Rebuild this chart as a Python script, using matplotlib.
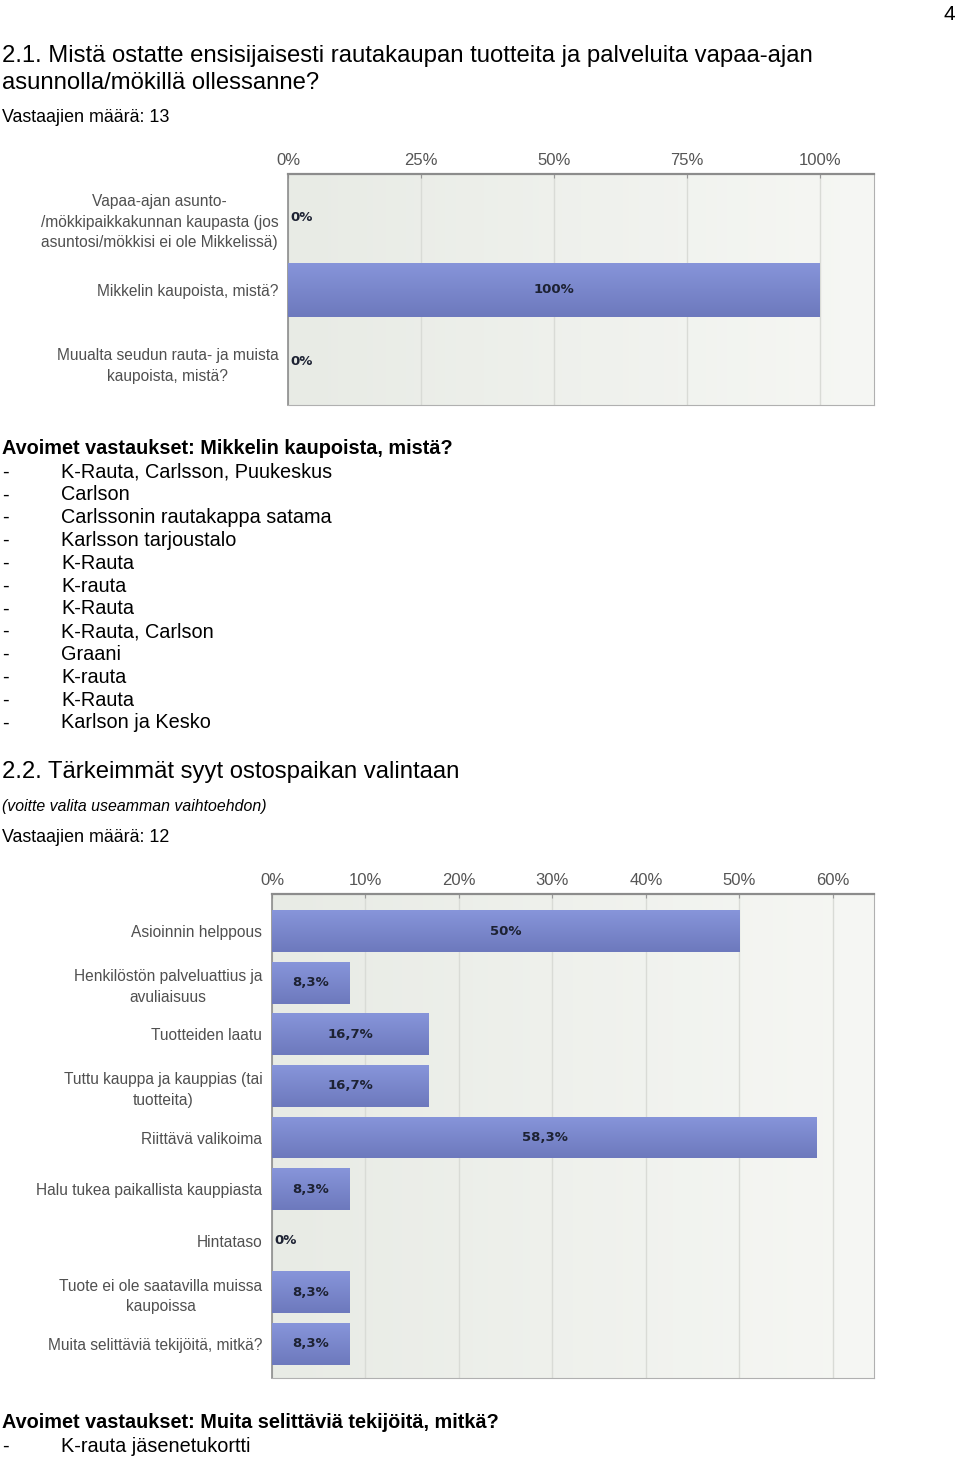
"""
Kyselyraportin sivu 4: kaksi vaakapalkkikuviota ja avoimet vastaukset
"""
import numpy as np
import matplotlib
matplotlib.use('Agg')
import matplotlib.pyplot as plt
from matplotlib.colors import LinearSegmentedColormap

# --- data ---
q1_labels = ['Vapaa-ajan asunto-\n/mökkipaikkakunnan kaupasta (jos\nasuntosi/mökkisi ei ole Mikkelissä)',
             'Mikkelin kaupoista, mistä?',
             'Muualta seudun rauta- ja muista\nkaupoista, mistä?']
q1_values = [0, 100, 0]
q1_ticks = [0, 25, 50, 75, 100]

q1_open = ['K-Rauta, Carlsson, Puukeskus', 'Carlson', 'Carlssonin rautakappa satama',
           'Karlsson tarjoustalo', 'K-Rauta', 'K-rauta', 'K-Rauta', 'K-Rauta, Carlson',
           'Graani', 'K-rauta', 'K-Rauta', 'Karlson ja Kesko']

q2_labels = ['Asioinnin helppous', 'Henkilöstön palveluattius ja\navuliaisuus',
             'Tuotteiden laatu', 'Tuttu kauppa ja kauppias (tai\ntuotteita)',
             'Riittävä valikoima', 'Halu tukea paikallista kauppiasta', 'Hintataso',
             'Tuote ei ole saatavilla muissa\nkaupoissa', 'Muita selittäviä tekijöitä, mitkä?']
q2_values = [50, 8.3, 16.7, 16.7, 58.3, 8.3, 0, 8.3, 8.3]
q2_ticks = [0, 10, 20, 30, 40, 50, 60]

q2_open = ['K-rauta jäsenetukortti']

W, H = 960, 1459
plt.rcParams['font.family'] = ['Liberation Sans', 'DejaVu Sans']

fig = plt.figure(figsize=(W / 100, H / 100), dpi=100)


def px_axes(left, top, right, bottom):
    return fig.add_axes([left / W, 1 - bottom / H, (right - left) / W, (bottom - top) / H])


def page_text(x, y, s, **kw):
    # y is the visual centre of the line in pixels from the top
    fig.text(x / W, 1 - (y + 2) / H, s, va='center', ha='left', **kw)


def fmt(v):
    return f"{v:g}".replace('.', ',') + '%'


def bar_chart(ax, labels, values, ticks, xmax, ymin, ymax, height, label_pad):
    y = np.arange(len(values))
    # background gradient
    bg = np.linspace(0, 1, 256).reshape(1, -1)
    ax.imshow(bg, extent=[0, 1, 0, 1], transform=ax.transAxes, aspect='auto',
              cmap=LinearSegmentedColormap.from_list('bg', ['#e8ebe5', '#f6f7f4']),
              zorder=0)
    for t in ticks:
        ax.axvline(t, color='#d9dbd6', lw=1, zorder=1)
    bars = ax.barh(y, values, height=height, color='#7b88cf', edgecolor='none', zorder=2)
    grad = np.linspace(0, 1, 64).reshape(-1, 1)
    bar_cmap = LinearSegmentedColormap.from_list('bar', ['#8795da', '#6d79bd'])
    for b in bars:
        if b.get_width() <= 0:
            continue
        x0, y0 = b.get_x(), b.get_y()
        im = ax.imshow(grad, extent=[x0, x0 + b.get_width(), y0 + b.get_height(), y0],
                       aspect='auto', cmap=bar_cmap, zorder=3, origin='upper')
        im.set_clip_path(b)
    for yi, v in zip(y, values):
        kw = dict(va='center', fontsize=9.5, fontweight='bold', color='#1d2233',
                  family='DejaVu Sans', zorder=4)
        if v > 0:
            ax.text(v / 2, yi, fmt(v), ha='center', **kw)
        else:
            ax.text(xmax * 0.004, yi, fmt(v), ha='left', **kw)
    ax.set_xlim(0, xmax)
    ax.set_ylim(ymax, ymin)
    ax.set_yticks(y)
    ax.set_yticklabels(labels, fontsize=11.2, color='#505050')
    for lab in ax.get_yticklabels():
        lab.set_multialignment('center')
        lab.set_linespacing(1.45)
    ax.tick_params(axis='y', length=0, pad=label_pad)
    ax.set_xticks(ticks)
    ax.set_xticklabels([f'{t}%' for t in ticks], fontsize=12, color='#555555')
    ax.xaxis.tick_top()
    ax.tick_params(axis='x', direction='in', length=3, color='#999999', pad=4)
    ax.spines['top'].set_color('#8c8c8c')
    ax.spines['top'].set_linewidth(1.6)
    ax.spines['left'].set_color('#8c8c8c')
    ax.spines['left'].set_linewidth(1.2)
    ax.spines['right'].set_color('#b0b0b0')
    ax.spines['bottom'].set_color('#b0b0b0')


# page number and headings
page_text(944, 12, '4', fontsize=15)
page_text(2, 54, '2.1. Mistä ostatte ensisijaisesti rautakaupan tuotteita ja palveluita vapaa-ajan', fontsize=17.2)
page_text(2, 81, 'asunnolla/mökillä ollessanne?', fontsize=17.2)
page_text(2, 116, 'Vastaajien määrä: 13', fontsize=12.9)

ax1 = px_axes(288, 174, 874, 405)
bar_chart(ax1, q1_labels, q1_values, q1_ticks, 110.2, -0.61, 2.6, 0.76, 7)

page_text(2, 447, 'Avoimet vastaukset: Mikkelin kaupoista, mistä?', fontsize=14.35, fontweight='bold')
for i, s in enumerate(q1_open):
    yy = 470 + i * 22.8
    page_text(2, yy, '-', fontsize=14.35)
    page_text(61, yy, s, fontsize=14.35)

page_text(2, 770, '2.2. Tärkeimmät syyt ostospaikan valintaan', fontsize=17.2)
page_text(2, 805, '(voitte valita useamman vaihtoehdon)', fontsize=11.4, style='italic')
page_text(2, 836, 'Vastaajien määrä: 12', fontsize=12.9)

ax2 = px_axes(272, 894, 874, 1378)
bar_chart(ax2, q2_labels, q2_values, q2_ticks, 64.4, -0.72, 8.66, 0.81, 7)

page_text(2, 1421, 'Avoimet vastaukset: Muita selittäviä tekijöitä, mitkä?', fontsize=14.35, fontweight='bold')
for i, s in enumerate(q2_open):
    yy = 1444 + i * 22.8
    page_text(2, yy, '-', fontsize=14.35)
    page_text(61, yy, s, fontsize=14.35)

fig.savefig('out.png', dpi=100, facecolor='white')
